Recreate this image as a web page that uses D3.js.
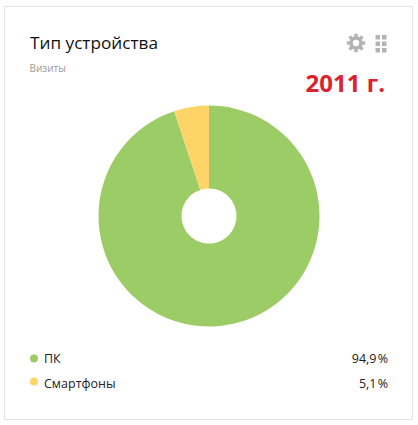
<!DOCTYPE html>
<html><head><meta charset="utf-8">
<script src="https://cdn.jsdelivr.net/npm/d3@7"></script>
<style>html,body{margin:0;padding:0;background:#fff}svg{display:block}text{font-family:"Open Sans","Noto Sans",sans-serif}</style>
</head><body><div id="c"></div>
<script>
const categories = ["ПК", "Смартфоны"];
const values = [94.9, 5.1];
const valueLabels = ["94,9 %", "5,1 %"];
const colors = ["#9ccc65", "#ffd466"];
const title = "Тип устройства";
const subtitle = "Визиты";
const yearLabel = "2011 г.";

const svg = d3.select("#c").append("svg").attr("width", 418).attr("height", 425);
svg.append("rect").attr("x", 4.5).attr("y", 6.5).attr("width", 408).attr("height", 413)
  .attr("fill", "#fff").attr("stroke", "#e4e4e4").attr("stroke-width", 1);

svg.append("text").attr("x", 30).attr("y", 49).attr("font-size", 17.2).attr("fill", "#111").text(title);
svg.append("text").attr("x", 29.5).attr("y", 72).attr("font-size", 10).attr("fill", "#9a9a9a").text(subtitle);
svg.append("text").attr("x", 385).attr("y", 92).attr("text-anchor", "end").attr("font-size", 24)
  .attr("font-weight", 700).attr("fill", "#d9232e").text(yearLabel);

// settings icon
const gear = svg.append("g").attr("transform", "translate(356,43)");
gear.append("g").selectAll("rect").data(d3.range(4)).join("rect")
  .attr("x", -1.7).attr("y", -9.2).attr("width", 3.4).attr("height", 18.4)
  .attr("fill", "#b3b3b3").attr("transform", d => `rotate(${d * 45})`);
gear.append("circle").attr("r", 6.8).attr("fill", "#b3b3b3");
gear.append("circle").attr("r", 3.2).attr("fill", "#fff");

// drag handle icon
svg.append("g").selectAll("rect").data(d3.cross([375.5, 382], [35, 41.5, 48])).join("rect")
  .attr("x", d => d[0]).attr("y", d => d[1]).attr("width", 4.5).attr("height", 4.5).attr("fill", "#b3b3b3");

const pie = d3.pie().sort(null).value(d => d).startAngle(0).endAngle(2 * Math.PI);
const arc = d3.arc().innerRadius(27.5).outerRadius(110.5);
svg.append("g").attr("transform", "translate(209,216)")
  .selectAll("path").data(pie(values)).join("path")
  .attr("d", arc).attr("fill", (d, i) => colors[i]);

const rowY = d3.scalePoint().domain(categories).range([358.5, 383.5]);
const rows = svg.append("g").selectAll("g").data(categories).join("g");
rows.append("circle").attr("cx", 34).attr("cy", (d, i) => rowY(d) - (i ? 2 : 0)).attr("r", 4)
  .attr("fill", (d, i) => colors[i]);
rows.append("text").attr("x", 44).attr("y", d => rowY(d) + 4.5).attr("font-size", 12.5).attr("fill", "#222").text(d => d);
rows.append("text").attr("x", 388).attr("y", d => rowY(d) + 4.5).attr("text-anchor", "end").attr("word-spacing", -2)
  .attr("font-size", 12.5).attr("fill", "#222").text((d, i) => valueLabels[i]);
</script></body></html>
